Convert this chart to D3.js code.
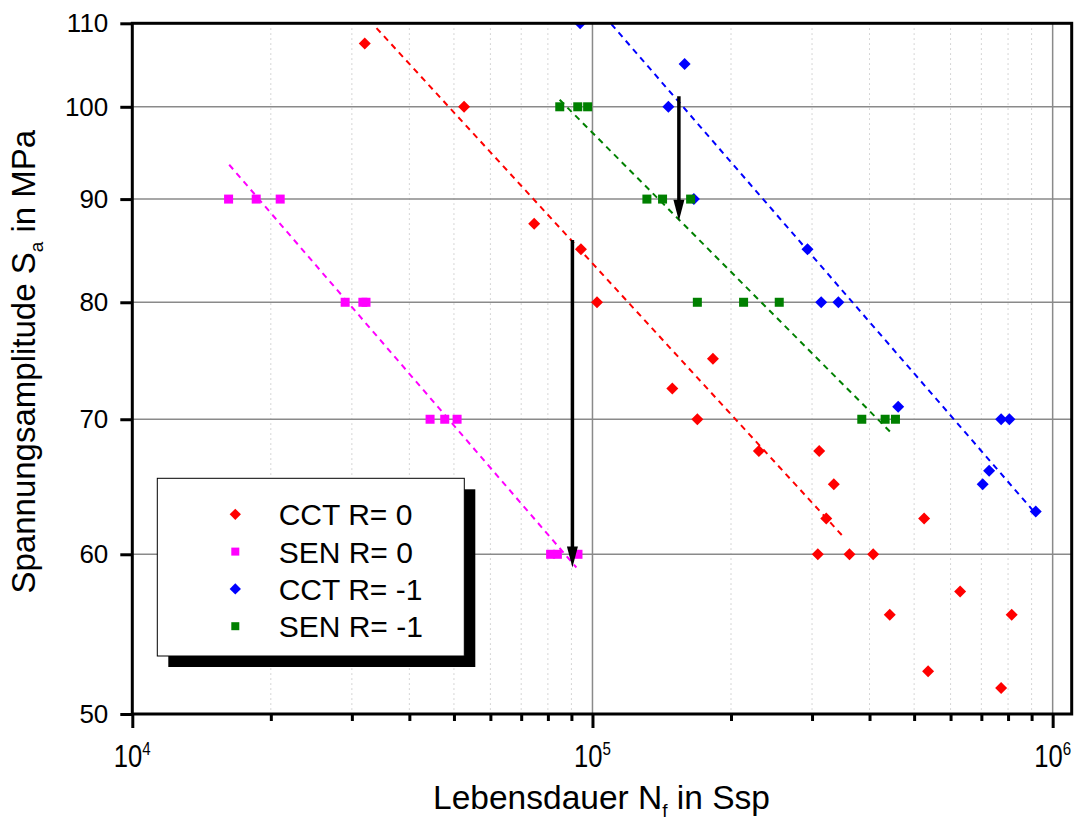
<!DOCTYPE html>
<html>
<head>
<meta charset="utf-8">
<script src="https://cdn.jsdelivr.net/npm/d3@7"></script>
<style>
  html, body { margin: 0; padding: 0; background: #fff; }
  svg { display: block; font-family: "Liberation Sans", Arial, sans-serif; }
</style>
</head>
<body>
<svg id="chart" width="1076" height="825"></svg>
<script>
// Fatigue data: cycles to failure N_f and stress amplitude S_a (MPa)
const cctR0_N = [32000, 52600, 74700, 94400, 102300, 182700, 149100, 169000, 229900, 310900, 334500,
                 322100, 525600, 308800, 361800, 407400, 629400, 442600, 814700, 536200, 772700];
const cctR0_S = [107.5, 100, 87.5, 85, 80, 75, 72.5, 70, 67.5, 67.5, 65,
                 62.5, 62.5, 60, 60, 60, 57.5, 56, 56, 52.5, 51.5];

const senR0_N = [16190, 18590, 20960, 29010, 31700, 32200, 44370, 47750, 50790, 81100, 83900, 93000];
const senR0_S = [90, 90, 90, 80, 80, 80, 70, 70, 70, 60, 60, 60];

const cctRm1_N = [94000, 158600, 146200, 166100, 293300, 314100, 342300, 461700, 772700, 805400, 727800, 704700, 918800];
const cctRm1_S = [110, 105, 100, 90, 85, 80, 80, 71, 70, 70, 66, 65, 63];

const senRm1_N = [84900, 92900, 97600, 131300, 142000, 163400, 169000, 213000, 254600, 384800, 432500, 455400];
const senRm1_S = [100, 100, 100, 90, 90, 90, 80, 80, 80, 70, 70, 70];

// Fitted S-N lines (start and end points)
const fitCctR0_N = [33940, 351200],  fitCctR0_S = [109.4, 61.2];
const fitSenR0_N = [16240, 92260],   fitSenR0_S = [93.6, 59.1];
const fitCctRm1_N = [109900, 904800], fitCctRm1_S = [109.9, 63.1];
const fitSenRm1_N = [84860, 449400],  fitSenRm1_S = [100.8, 68.8];

// Arrows marking the drop in fatigue strength
const arrowN = [90450, 154100];
const arrowFrom = [85.9, 101.2];
const arrowTo = [59.1, 87.8];

const seriesNames = ["CCT R= 0", "SEN R= 0", "CCT R= -1", "SEN R= -1"];
const xMajorTicks = [1e4, 1e5, 1e6];
const xTickExponents = ["4", "5", "6"];
const yTicks = [50, 60, 70, 80, 90, 100, 110];
const yGridTicks = [60, 70, 80, 90, 100];

const xDomain = [1e4, 1.1e6];
const yDomain = [50, 110];

const svg = d3.select("#chart");
const L = 132.3, R = 1071.7, T = 23.3, B = 714;

const x = d3.scaleLog().domain(xDomain).range([L, R]);
const y = d3.scaleLog().domain(yDomain).range([B, T]);

const xMinorTicks = [];
[1e4, 1e5].forEach(d => { for (let k = 2; k <= 9; k++) xMinorTicks.push(d * k); });

svg.append("rect").attr("width", 1076).attr("height", 825).attr("fill", "#fff");

svg.append("defs").append("clipPath").attr("id", "plotClip")
  .append("rect").attr("x", L).attr("y", T).attr("width", R - L).attr("height", B - T);

// Grid
const grid = svg.append("g");
grid.selectAll("line.minor").data(xMinorTicks).enter().append("line")
  .attr("x1", d => x(d)).attr("x2", d => x(d)).attr("y1", T).attr("y2", B)
  .attr("stroke", "#c8c8c8").attr("stroke-width", 1).attr("stroke-dasharray", "1.5,3.5");
grid.selectAll("line.majx").data(xMajorTicks.slice(1)).enter().append("line")
  .attr("x1", d => x(d)).attr("x2", d => x(d)).attr("y1", T).attr("y2", B)
  .attr("stroke", "#8a8a8a").attr("stroke-width", 1.5);
grid.selectAll("line.majy").data(yGridTicks).enter().append("line")
  .attr("x1", L).attr("x2", R).attr("y1", d => y(d)).attr("y2", d => y(d))
  .attr("stroke", "#8a8a8a").attr("stroke-width", 1.5);

const plot = svg.append("g").attr("clip-path", "url(#plotClip)");

// Fit lines
const fits = [
  { N: fitCctR0_N, S: fitCctR0_S, c: "#ff0000" },
  { N: fitSenR0_N, S: fitSenR0_S, c: "#ff00ff" },
  { N: fitSenRm1_N, S: fitSenRm1_S, c: "#008000" },
  { N: fitCctRm1_N, S: fitCctRm1_S, c: "#0000ff" }
];
const line = d3.line().x(d => x(d[0])).y(d => y(d[1]));
fits.forEach(f => {
  plot.append("path").datum(d3.zip(f.N, f.S)).attr("d", line)
    .attr("fill", "none").attr("stroke", f.c).attr("stroke-width", 2)
    .attr("stroke-dasharray", "6,5");
});

// Markers
const diamond = d3.symbol().type(d3.symbolSquare).size(72);
function drawSeries(N, S, color, shape) {
  const g = plot.append("g");
  d3.zip(N, S).forEach(([n, s]) => {
    if (shape === "diamond") {
      g.append("path").attr("d", diamond())
        .attr("transform", `translate(${x(n)},${y(s)}) rotate(45)`)
        .attr("fill", color);
    } else {
      g.append("rect").attr("x", x(n) - 4.5).attr("y", y(s) - 4.5)
        .attr("width", 9).attr("height", 9).attr("fill", color);
    }
  });
}
drawSeries(cctR0_N, cctR0_S, "#ff0000", "diamond");
drawSeries(senR0_N, senR0_S, "#ff00ff", "square");
drawSeries(cctRm1_N, cctRm1_S, "#0000ff", "diamond");
drawSeries(senRm1_N, senRm1_S, "#008000", "square");

// Arrows
arrowN.forEach((n, i) => {
  const ax = x(n), y0 = y(arrowFrom[i]), y1 = y(arrowTo[i]);
  plot.append("line").attr("x1", ax).attr("x2", ax).attr("y1", y0).attr("y2", y1 - 14)
    .attr("stroke", "#000").attr("stroke-width", 3.5);
  plot.append("path")
    .attr("d", `M${ax - 5.5},${y1 - 21} L${ax + 5.5},${y1 - 21} L${ax},${y1} Z`)
    .attr("fill", "#000");
});

// Axes
const xAxisMajor = d3.axisBottom(x).tickValues(xMajorTicks).tickSize(14).tickFormat("");
const xAxisMinor = d3.axisBottom(x).tickValues(xMinorTicks).tickSize(7).tickFormat("");
const gxMaj = svg.append("g").attr("transform", `translate(0,${B})`).call(xAxisMajor);
const gxMin = svg.append("g").attr("transform", `translate(0,${B})`).call(xAxisMinor);
[gxMaj, gxMin].forEach(g => {
  g.select(".domain").remove();
  g.selectAll(".tick line").attr("stroke", "#000").attr("stroke-width", 3);
});

xMajorTicks.forEach((v, i) => {
  const t = svg.append("text")
    .attr("transform", `translate(${x(v)},767) scale(0.84,1)`)
    .attr("text-anchor", "middle").attr("font-size", 30.5).attr("fill", "#000");
  t.append("tspan").text("10");
  t.append("tspan").attr("font-size", 18).attr("dy", -12).text(xTickExponents[i]);
});

const yAxis = d3.axisLeft(y).tickValues(yTicks).tickSize(12).tickPadding(12).tickFormat(d3.format("d"));
const gy = svg.append("g").attr("transform", `translate(${L},0)`).call(yAxis);
gy.select(".domain").remove();
gy.selectAll(".tick line").attr("stroke", "#000").attr("stroke-width", 3);
gy.selectAll(".tick text").attr("font-size", 26).attr("fill", "#000")
  .attr("font-family", "Liberation Sans, Arial, sans-serif");

// Frame
svg.append("rect").attr("x", L).attr("y", T).attr("width", R - L).attr("height", B - T)
  .attr("fill", "none").attr("stroke", "#000").attr("stroke-width", 3);

// Axis titles
const xt = svg.append("text").attr("x", 601.5).attr("y", 808.5)
  .attr("text-anchor", "middle").attr("font-size", 33.5).attr("fill", "#000");
xt.append("tspan").text("Lebensdauer N");
xt.append("tspan").attr("font-size", 19).attr("dy", 8).text("f");
xt.append("tspan").attr("dy", -8).text(" in Ssp");

const yt = svg.append("text").attr("transform", "translate(35,361.7) rotate(-90)")
  .attr("text-anchor", "middle").attr("font-size", 33).attr("fill", "#000");
yt.append("tspan").text("Spannungsamplitude S");
yt.append("tspan").attr("font-size", 19).attr("dy", 8).text("a");
yt.append("tspan").attr("dy", -8).text(" in MPa");

// Legend
const lg = svg.append("g");
const lx = 157.3, ly = 478.3, lw = 307, lh = 177.7;
lg.append("rect").attr("x", lx + 11).attr("y", ly + 11).attr("width", lw).attr("height", lh).attr("fill", "#000");
lg.append("rect").attr("x", lx).attr("y", ly).attr("width", lw).attr("height", lh)
  .attr("fill", "#fff").attr("stroke", "#000").attr("stroke-width", 1);
const legColors = ["#ff0000", "#ff00ff", "#0000ff", "#008000"];
const legShapes = ["diamond", "square", "diamond", "square"];
seriesNames.forEach((name, i) => {
  const cy = 514.3 + i * 37.3;
  if (legShapes[i] === "diamond") {
    lg.append("path").attr("d", d3.symbol().type(d3.symbolSquare).size(64)())
      .attr("transform", `translate(235.3,${cy}) rotate(45)`).attr("fill", legColors[i]);
  } else {
    lg.append("rect").attr("x", 235.3 - 4).attr("y", cy - 4).attr("width", 8).attr("height", 8)
      .attr("fill", legColors[i]);
  }
  lg.append("text").attr("x", 278.7).attr("y", cy + 11).attr("font-size", 30)
    .attr("fill", "#000").text(name);
});
</script>
</body>
</html>
